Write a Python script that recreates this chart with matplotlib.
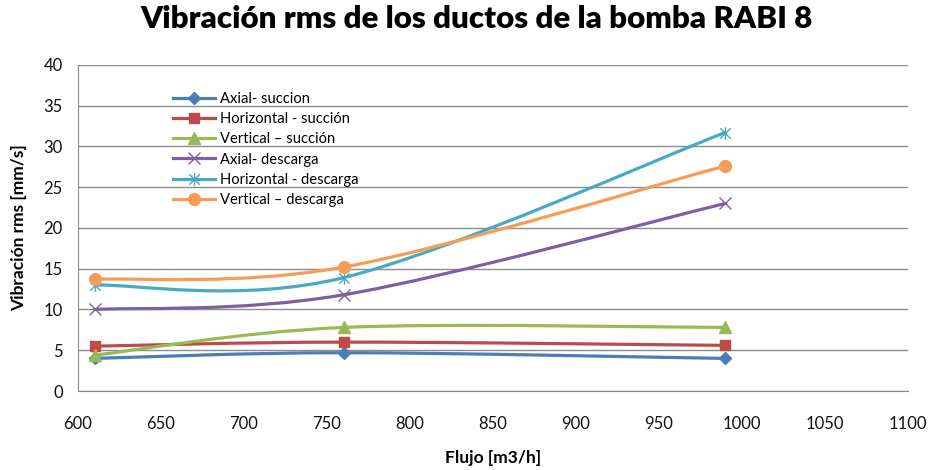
import matplotlib
matplotlib.use("Agg")
from matplotlib import pyplot as plt
from matplotlib.path import Path
from matplotlib.patches import PathPatch
from matplotlib.lines import Line2D

plt.rcParams['font.family'] = ['Lato', 'DejaVu Sans']

# caudal de cada punto de medida
flujo = [610, 760, 990]

axial_succion = [4.0, 4.7, 4.0]
horizontal_succion = [5.5, 6.0, 5.6]
vertical_succion = [4.4, 7.8, 7.8]
axial_descarga = [10.0, 11.8, 23.0]
horizontal_descarga = [13.0, 13.9, 31.7]
vertical_descarga = [13.7, 15.2, 27.6]

nombres = ['Axial- succion', 'Horizontal - succión', 'Vertical \u2013 succión',
           'Axial- descarga', 'Horizontal - descarga', 'Vertical \u2013 descarga']
colores = ['#4A7EBB', '#BE4B48', '#98B954', '#7D60A0', '#46AAC5', '#F59D56']

# marcador tipo estrella: aspa mas linea vertical
estrella = Path([(-1, -1), (1, 1), (-1, 1), (1, -1), (0, -1.2), (0, 1.2)],
                [Path.MOVETO, Path.LINETO, Path.MOVETO, Path.LINETO, Path.MOVETO, Path.LINETO])
marcadores = [('D', 6), ('s', 7.5), ('^', 8), ('x', 8), (estrella, 9), ('o', 8.5)]


def curva_suave(x, y):
    # bezier cubica con puntos de control tipo Catmull-Rom (linea suavizada)
    pts = list(zip(x, y))
    n = len(pts)
    verts = [pts[0]]
    codes = [Path.MOVETO]
    for i in range(n - 1):
        p0 = pts[max(i - 1, 0)]
        p1 = pts[i]
        p2 = pts[i + 1]
        p3 = pts[min(i + 2, n - 1)]
        c1 = (p1[0] + (p2[0] - p0[0]) / 6, p1[1] + (p2[1] - p0[1]) / 6)
        c2 = (p2[0] - (p3[0] - p1[0]) / 6, p2[1] - (p3[1] - p1[1]) / 6)
        verts += [c1, c2, p2]
        codes += [Path.CURVE4, Path.CURVE4, Path.CURVE4]
    return Path(verts, codes)


fig = plt.figure(figsize=(9.29, 4.70), dpi=100)
ax = fig.add_axes([0.084, 0.168, 0.893, 0.694])

series = [axial_succion, horizontal_succion, vertical_succion,
          axial_descarga, horizontal_descarga, vertical_descarga]
handles = []
for i in range(len(series)):
    patch = PathPatch(curva_suave(flujo, series[i]), facecolor='none',
                      edgecolor=colores[i], lw=2.3, capstyle='round', zorder=3)
    ax.add_patch(patch)
    m, ms = marcadores[i]
    ax.plot(flujo, series[i], linestyle='none', marker=m, markersize=ms,
            color=colores[i], mec=colores[i], mew=1.0, zorder=4)
    handles.append(Line2D([], [], color=colores[i], lw=2.3, marker=m,
                          markersize=ms, mec=colores[i], mew=1.0))

ax.set_xlim(600, 1100)
ax.set_ylim(0, 40)
ax.set_xticks(range(600, 1101, 50))
ax.set_yticks(range(0, 41, 5))
ax.yaxis.grid(True, color='#8C8C8C', lw=1.0)
ax.set_axisbelow(True)
for s in ['top', 'right']:
    ax.spines[s].set_visible(False)
for s in ['left', 'bottom']:
    ax.spines[s].set_color('#8C8C8C')
ax.tick_params(axis='both', length=0, labelsize=12, colors='#111111')
ax.tick_params(axis='y', pad=11)
ax.tick_params(axis='x', pad=18)

ax.set_xlabel('Flujo [m3/h]', fontsize=12.5, fontweight='bold', labelpad=13)
ax.set_ylabel('Vibración rms [mm/s]', fontsize=12.5, fontweight='bold', labelpad=12)
fig.suptitle('Vibración rms de los ductos de la bomba RABI 8', fontsize=22.5,
             fontweight='heavy', x=0.513, y=0.99)

ax.legend(handles, nombres, loc='upper left', bbox_to_anchor=(0.107, 0.935),
          frameon=False, fontsize=10.6, handlelength=2.9, handletextpad=0.3,
          labelspacing=0.42, borderaxespad=0)

fig.savefig('out.png', dpi=100)
